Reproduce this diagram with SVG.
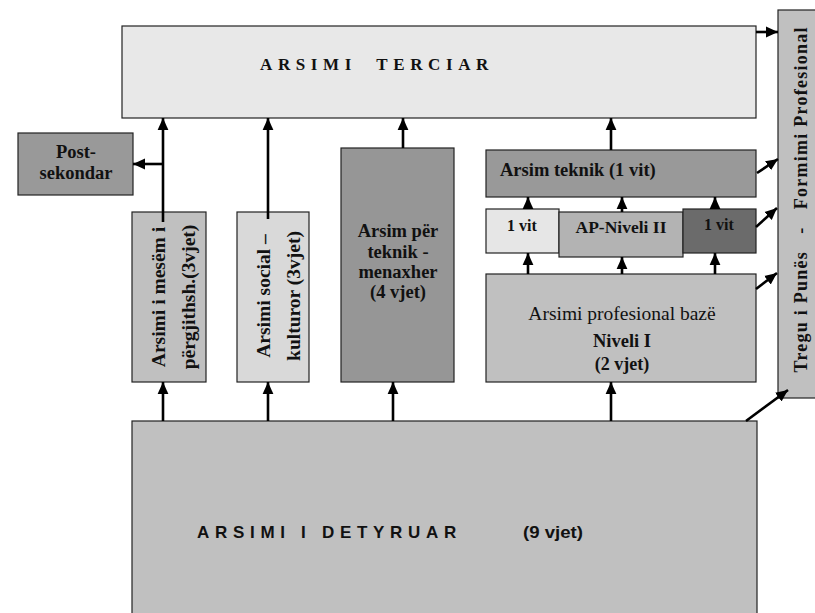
<svg xmlns="http://www.w3.org/2000/svg" width="815" height="613" viewBox="0 0 815 613">
<style>
.box{stroke:#222;stroke-width:1.2}
.serif{font-family:"Liberation Serif","DejaVu Serif",serif;fill:#111}
.b{font-weight:bold}
.sans{font-family:"Liberation Sans",Arial,sans-serif;font-weight:bold;fill:#111}
.c line{stroke:#000;stroke-width:2.6;marker-end:url(#ah)}
</style>
<defs>
<marker id="ah" markerUnits="userSpaceOnUse" markerWidth="12" markerHeight="12" viewBox="0 0 10 10" refX="10" refY="5" orient="auto">
<path d="M0,0.5 L10,5 L0,9.5 z" fill="#000"/>
</marker>
</defs>
<rect width="815" height="613" fill="#fff"/>

<g id="terciar">
<rect class="box" x="122" y="26" width="634" height="92" fill="#e8e8e8"/>
<text class="serif b" x="260" y="70" font-size="17" letter-spacing="5.6" xml:space="preserve">ARSIMI  TERCIAR</text>
</g>

<g id="tregu">
<rect class="box" x="778" y="10" width="40" height="388" fill="#c0c0c0"/>
<text class="serif b" font-size="18" transform="translate(807,200) rotate(-90)" text-anchor="middle" textLength="345" lengthAdjust="spacing" xml:space="preserve">Tregu i Punës   -   Formimi Profesional</text>
</g>

<g id="postsekondar">
<rect class="box" x="18" y="133" width="115" height="62" fill="#999999"/>
<text class="serif b" font-size="18.5" x="76" y="158" text-anchor="middle">Post-</text>
<text class="serif b" font-size="18.5" x="76" y="179" text-anchor="middle">sekondar</text>
</g>

<g id="mesem">
<rect class="box" x="132" y="212" width="74" height="170" fill="#c0c0c0"/>
<text class="serif b" font-size="19.5" transform="translate(165,297) rotate(-90)" text-anchor="middle">Arsimi i mesëm i</text>
<text class="serif b" font-size="19.5" transform="translate(195,297) rotate(-90)" text-anchor="middle">përgjithsh.(3vjet)</text>
</g>

<g id="social">
<rect class="box" x="237" y="212" width="72" height="170" fill="#d9d9d9"/>
<text class="serif b" font-size="19.5" transform="translate(270,296) rotate(-90)" text-anchor="middle">Arsimi social –</text>
<text class="serif b" font-size="19.5" transform="translate(300,296) rotate(-90)" text-anchor="middle">kulturor (3vjet)</text>
</g>

<g id="teknik-menaxher">
<rect class="box" x="341" y="148" width="113" height="234" fill="#969696"/>
<text class="serif b" font-size="18.5" x="398" y="237" text-anchor="middle">Arsim për</text>
<text class="serif b" font-size="18.5" x="398" y="258" text-anchor="middle">teknik -</text>
<text class="serif b" font-size="18.5" x="398" y="278" text-anchor="middle">menaxher</text>
<text class="serif b" font-size="18.5" x="398" y="298" text-anchor="middle">(4 vjet)</text>
</g>

<g id="arsim-teknik">
<rect class="box" x="486" y="150" width="270" height="47" fill="#999999"/>
<text class="serif b" font-size="18.5" x="500" y="176">Arsim teknik (1 vit)</text>
</g>

<g id="vit1a">
<rect class="box" x="486" y="209" width="73" height="44" fill="#e6e6e6"/>
<text class="serif b" font-size="16" x="522" y="231" text-anchor="middle">1 vit</text>
</g>

<g id="ap-niveli2">
<rect class="box" x="559" y="212" width="124" height="45" fill="#b3b3b3"/>
<text class="serif b" font-size="17.5" x="621" y="233" text-anchor="middle">AP-Niveli II</text>
</g>

<g id="vit1b">
<rect class="box" x="683" y="209" width="73" height="44" fill="#6b6b6b"/>
<text class="serif b" font-size="16" x="719" y="230" text-anchor="middle">1 vit</text>
</g>

<g id="niveli1">
<rect class="box" x="486" y="274" width="270" height="108" fill="#c0c0c0"/>
<text class="serif" font-size="19.5" x="622" y="320" text-anchor="middle" fill="#333">Arsimi profesional bazë</text>
<text class="serif b" font-size="18.5" x="622" y="347" text-anchor="middle">Niveli I</text>
<text class="serif b" font-size="18" x="622" y="370" text-anchor="middle">(2 vjet)</text>
</g>

<g id="detyruar">
<rect class="box" x="132" y="421" width="625" height="200" fill="#c0c0c0"/>
<text class="sans" font-size="17" x="197" y="538" letter-spacing="5.7">ARSIMI I DETYRUAR</text>
<text class="sans" font-size="17" x="523" y="538" textLength="60" lengthAdjust="spacingAndGlyphs">(9 vjet)</text>
</g>

<g class="c" id="connectors">
<line x1="163" y1="222" x2="163" y2="118"/>
<line x1="163" y1="164" x2="133" y2="164"/>
<line x1="268" y1="219" x2="268" y2="118"/>
<line x1="403" y1="148" x2="403" y2="118"/>
<line x1="611" y1="150" x2="611" y2="118"/>
<line x1="756" y1="32" x2="778" y2="32"/>
<line x1="757" y1="173" x2="778" y2="159"/>
<line x1="756" y1="227" x2="777" y2="208"/>
<line x1="756" y1="289" x2="777" y2="273"/>
<line x1="746" y1="421" x2="788" y2="390"/>
<line x1="528" y1="209" x2="528" y2="197"/>
<line x1="622" y1="212" x2="622" y2="197"/>
<line x1="715" y1="209" x2="715" y2="197"/>
<line x1="528" y1="274" x2="528" y2="253"/>
<line x1="622" y1="274" x2="622" y2="257"/>
<line x1="715" y1="274" x2="715" y2="253"/>
<line x1="163" y1="421" x2="163" y2="382"/>
<line x1="268" y1="421" x2="268" y2="382"/>
<line x1="393" y1="421" x2="393" y2="382"/>
<line x1="611" y1="421" x2="611" y2="382"/>
</g>
</svg>
